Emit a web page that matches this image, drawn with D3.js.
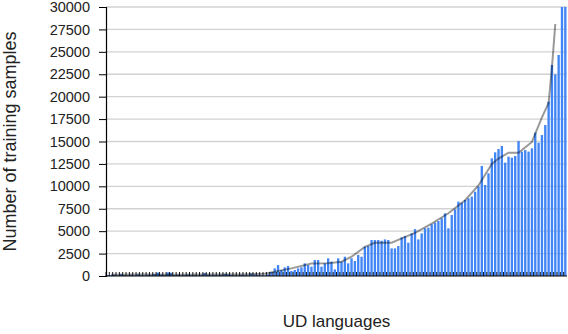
<!DOCTYPE html>
<html>
<head>
<meta charset="utf-8">
<script src="https://cdn.jsdelivr.net/npm/d3@7"></script>
<style>
  body { margin: 0; background: #fff; }
  text { font-family: "Liberation Sans", Arial, sans-serif; fill: #222; }
</style>
</head>
<body>
<div id="chart"></div>
<script>
// training samples per UD language, sorted
const samples = [
  120, 90, 150, 60, 200, 110, 80, 140, 70, 180,
  100, 60, 130, 90, 210, 380, 150, 120, 400, 360,
  90, 140, 70, 110, 160, 80, 120, 60, 100, 330,
  150, 90, 110, 70, 130, 240, 180, 120, 90, 60,
  140, 100, 80, 280, 160, 120, 90, 70, 200, 450,
  850, 1220, 670, 960, 1110, 560, 670, 850, 960, 1410,
  1220, 1040, 1780, 1780, 1040, 1410, 1970, 1600, 740, 1970,
  1600, 2150, 1410, 1970, 1670, 2340, 2150, 3270, 3340, 4010,
  4010, 4010, 3930, 4080, 4010, 3080, 3080, 3340, 4300, 4450,
  3710, 4750, 5230, 4080, 4750, 5320, 5390, 5760, 5950, 6130,
  6430, 6990, 5320, 6800, 7430, 8290, 8180, 8480, 8660, 8850,
  9400, 9960, 12270, 10150, 11450, 13120, 13790, 14160, 14500, 12640,
  13310, 13200, 13380, 15060, 13870, 14050, 13870, 14240, 15990, 14870,
  15720, 16840, 19440, 23530, 22490, 24650, 30000, 30000
]
const languages = samples.map((d, i) => i)

// trend line vertices: [language index, value]
const trend = [
  [1, 150], [10, 160], [20, 150], [30, 170], [40, 160], [47, 260],
  [55, 850], [61, 1400], [66, 1420], [70, 1600], [73, 2150], [77, 3250],
  [80, 3700], [85, 3720], [88, 4200], [92, 4800], [97, 5850], [102, 7000],
  [107, 8450], [111, 10100], [115, 12500], [117, 13100], [120, 13750],
  [123, 13750], [127, 14950], [130, 17700], [132, 19300], [133, 23300], [134, 28100]
]

const yTicks = d3.range(0, 30001, 2500)

const w = 568
const h = 334
const plotLeft = 106, plotRight = 567, plotTop = 7, plotBottom = 276

const svg = d3.select("#chart").append("svg")
  .attr("width", w)
  .attr("height", h)

const x = d3.scaleBand()
  .domain(languages)
  .range([plotLeft, plotRight])
  .paddingInner(0.3)
  .paddingOuter(0.15)

const y = d3.scaleLinear()
  .domain([0, 30000])
  .range([plotBottom, plotTop])

// gridlines
svg.append("g")
  .selectAll("line")
  .data(yTicks.filter(d => d > 0))
  .enter().append("line")
  .attr("x1", plotLeft).attr("x2", plotRight)
  .attr("y1", d => y(d)).attr("y2", d => y(d))
  .attr("stroke", "#d2d2d2")
  .attr("stroke-width", 1.3)

// bars
svg.append("g")
  .selectAll("rect")
  .data(samples)
  .enter().append("rect")
  .attr("x", (d, i) => x(languages[i]))
  .attr("y", d => y(d))
  .attr("width", x.bandwidth())
  .attr("height", d => plotBottom - y(d))
  .attr("fill", "#4285f4")

// trend line
const line = d3.line()
  .x(d => x(d[0]) + x.bandwidth() / 2)
  .y(d => y(d[1]))

svg.append("path")
  .datum(trend)
  .attr("d", line)
  .attr("fill", "none")
  .attr("stroke", "#000")
  .attr("stroke-opacity", 0.4)
  .attr("stroke-width", 2)

// y axis
const yAxis = d3.axisLeft(y)
  .tickValues(yTicks)
  .tickSize(7)
  .tickPadding(9)
  .tickFormat(d3.format("d"))

svg.append("g")
  .attr("transform", `translate(${plotLeft},0)`)
  .call(yAxis)
  .call(g => g.select(".domain").attr("stroke", "#000").attr("stroke-width", 1.2))
  .call(g => g.selectAll(".tick line").attr("stroke", "#000"))
  .call(g => g.selectAll(".tick text")
    .style("font-family", "Liberation Sans, Arial, sans-serif")
    .style("font-size", "14.5px")
    .attr("fill", "#222"))

// x axis line with ticks between languages
const step = x.step()
const edge = (step - x.bandwidth()) / 2
svg.append("g")
  .selectAll("line")
  .data(languages)
  .enter().append("line")
  .attr("x1", d => x(d) - edge).attr("x2", d => x(d) - edge)
  .attr("y1", plotBottom).attr("y2", plotBottom - 4)
  .attr("stroke", "#000")
  .attr("stroke-width", 0.9)

svg.append("line")
  .attr("x1", plotLeft).attr("x2", plotRight)
  .attr("y1", plotBottom).attr("y2", plotBottom)
  .attr("stroke", "#000")
  .attr("stroke-width", 1.2)

// titles
svg.append("text")
  .attr("transform", `translate(16,${(plotTop + plotBottom) / 2}) rotate(-90)`)
  .attr("text-anchor", "middle")
  .style("font-size", "18px")
  .text("Number of training samples")

svg.append("text")
  .attr("x", (plotLeft + plotRight) / 2)
  .attr("y", 327)
  .attr("text-anchor", "middle")
  .style("font-size", "17px")
  .text("UD languages")
</script>
</body>
</html>
